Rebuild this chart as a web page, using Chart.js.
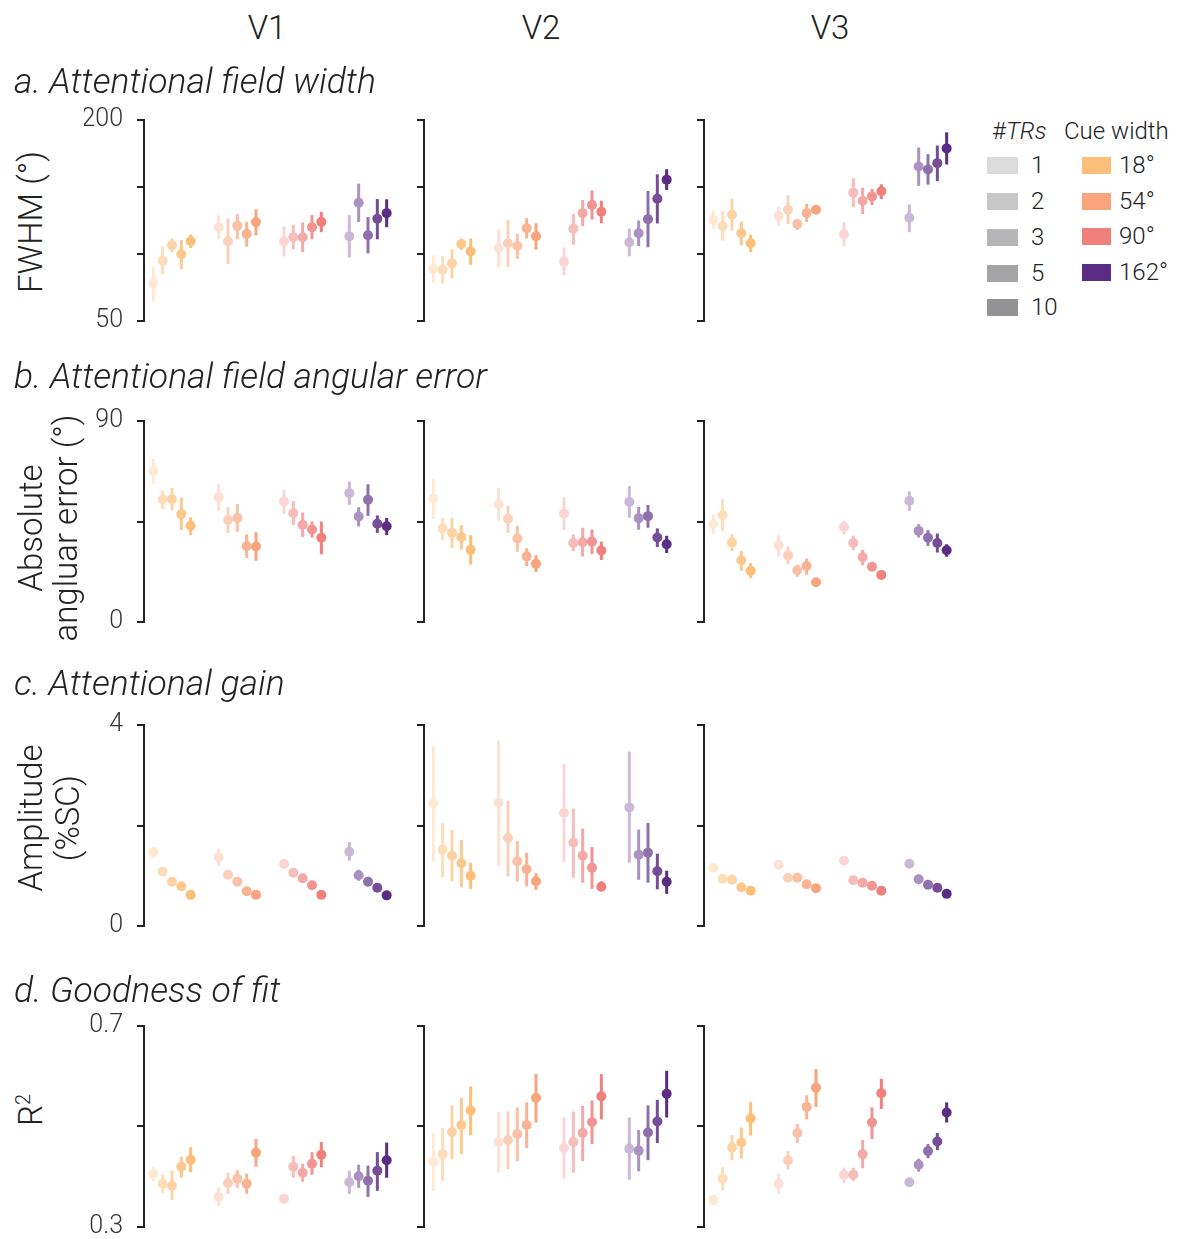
<!DOCTYPE html>
<html>
<head>
<meta charset="utf-8">
<script src="https://cdn.jsdelivr.net/npm/chart.js@4.4.0/dist/chart.umd.min.js"></script>
<style>
  body { margin: 0; background: #fff; }
  #page { position: relative; width: 1179px; height: 1239px; overflow: hidden;
          font-family: Roboto, "Helvetica Neue", sans-serif; font-weight: 300; color: #222; }
  .t { position: absolute; white-space: nowrap; }
  .col { font-size: 33px; transform: translate(-50%, -50%); }
  .row { font-size: 35.5px; font-style: italic; transform: translateY(-50%); }
  .ytitle { font-size: 33px; text-align: center; transform: translate(-50%, -50%) rotate(-90deg); }
  .lg { font-size: 24px; transform: translateY(-50%); }
  .sw { position: absolute; }
  .panel { position: absolute; }
</style>
</head>
<body>
<div id="page"></div>
<script>
// ---- categories ----
const areas = ['V1', 'V2', 'V3'];
const cueWidths = ['18°', '54°', '90°', '162°'];
const trCounts = ['1', '2', '3', '5', '10'];
const cueColors = ['#FDBE79', '#F8A47D', '#F0807C', '#5B2C83'];
const trAlpha = [0.33, 0.52, 0.68, 0.84, 1.0];
const trGray = '#939396';

// ---- row titles, y titles, tick values ----
const rowTitles = ['a. Attentional field width', 'b. Attentional field angular error',
                   'c. Attentional gain', 'd. Goodness of fit'];
const fwhmTicks = [50, 100, 150, 200];
const errTicks = [0, 45, 90];
const ampTicks = [0, 2, 4];
const r2Ticks = [0.3, 0.5, 0.7];

// ---- a. FWHM (deg): order = cue 18,54,90,162 x TRs 1,2,3,5,10 ----
const fwhmV1Mean = [78, 95, 106.5, 99.8, 109.5, 120, 109.5, 121, 115, 123.8, 109.5, 112.5, 112.5, 120, 124, 113.3, 138.3, 114, 126.3, 130.5];
const fwhmV1Lo   = [65, 85, 101.5, 88.8, 104.5, 111, 92.5, 111, 105.5, 114, 98.3, 103.5, 101.3, 111, 116.3, 97.5, 123.8, 100.5, 111, 120];
const fwhmV1Hi   = [90.5, 105.5, 111.5, 110.5, 114.5, 128.8, 126.5, 130, 124, 133.3, 120.5, 121.8, 123.5, 129, 131.5, 129, 152.5, 127.5, 141, 140.8];
const fwhmV2Mean = [89, 88.3, 93, 107.5, 101.8, 104.5, 108, 106, 119.3, 113.3, 94.3, 118.8, 130.5, 136.5, 131.5, 108.8, 115.5, 126, 141.3, 155.5];
const fwhmV2Lo   = [78.5, 78, 82, 103, 92, 90, 90.5, 96.3, 111.5, 103.3, 84, 106.8, 120.8, 125.8, 123, 98.3, 106, 105, 122.8, 147.8];
const fwhmV2Hi   = [99, 98.3, 103.5, 111.5, 111.5, 118.3, 125.3, 115, 126.8, 123, 104.8, 130, 140.3, 147.5, 139.8, 119, 125, 147, 159.5, 163.3];
const fwhmV3Mean = [125.5, 120.8, 129.3, 115.5, 108, 128.3, 133, 122.3, 130.5, 133, 114.8, 145.8, 139.8, 143, 146.8, 127, 165.3, 163, 167.8, 178.8];
const fwhmV3Lo   = [118.5, 110, 117.3, 106.5, 101.3, 120.8, 122.3, 118, 123.8, 130, 105.8, 134.8, 129.8, 136.5, 141, 116.3, 150.8, 151.8, 154.3, 166.8];
const fwhmV3Hi   = [132.5, 131.8, 141.3, 124.3, 114.5, 135.5, 143.8, 126.3, 137.5, 135.5, 123.8, 156.5, 149.5, 148.5, 152, 137, 179.5, 174.5, 181, 190.8];

// ---- b. absolute angular error (deg) ----
const errV1Mean = [67.6, 54.9, 55, 48.3, 43.1, 55.9, 45.7, 46.6, 33.9, 33.8, 54, 48.7, 43.5, 41.4, 37.7, 57.7, 47.2, 54.7, 44, 42.9];
const errV1Lo   = [61.9, 50.7, 50.1, 41.1, 38.9, 49.8, 39.9, 40.4, 28.7, 27.4, 48.4, 43.4, 38.1, 37.8, 30.3, 52.5, 42.8, 47.5, 39.9, 38.9];
const errV1Hi   = [73, 58.8, 60, 55.5, 46.9, 61.7, 51.4, 52.8, 39.3, 40.2, 59.2, 54.1, 49, 45, 45, 62.8, 51.4, 61.7, 47.7, 46.6];
const errV2Mean = [55.4, 41.9, 39.9, 38, 32.3, 52.7, 46.2, 37.4, 29.4, 26.1, 48.6, 35.4, 35.7, 36, 32, 53.7, 46.5, 47.4, 37.8, 34.8];
const errV2Lo   = [46, 36.8, 33.2, 32.4, 25.7, 45.3, 39.9, 31.4, 25, 22.4, 41.1, 31.7, 29.3, 30.5, 27.8, 46.7, 41.3, 42.2, 33.6, 30.9];
const errV2Hi   = [64, 46.5, 46.5, 43.4, 38.9, 60, 52.2, 43, 33, 29.9, 56, 39.2, 42.2, 41.4, 36, 60.9, 51.5, 52.4, 41.9, 38.6];
const errV3Mean = [43.8, 47.8, 35.6, 27.5, 23, 34.4, 29.9, 23.2, 25.1, 17.8, 42.5, 35.4, 29, 24.7, 21.1, 54.3, 40.8, 37.7, 35.4, 32.1];
const errV3Lo   = [39.2, 40.7, 31.8, 22.9, 19.6, 29.6, 25.9, 20.2, 21.2, 17.1, 39.3, 32.1, 25.4, 23.9, 20.5, 49.8, 37.8, 34.1, 31.1, 29.2];
const errV3Hi   = [48.3, 55, 39.3, 31.8, 26.3, 39, 33.8, 25.7, 28.4, 18.5, 45.4, 38.7, 32.3, 25.5, 21.7, 58.5, 43.8, 41.1, 39.6, 34.8];

// ---- c. amplitude (%SC) ----
const ampV1Mean = [1.47, 1.08, 0.88, 0.79, 0.62, 1.37, 1.02, 0.88, 0.69, 0.62, 1.24, 1.06, 0.95, 0.81, 0.62, 1.48, 1.01, 0.88, 0.76, 0.61];
const ampV1Lo   = [1.36, 1.04, 0.85, 0.76, 0.6, 1.2, 0.98, 0.85, 0.66, 0.6, 1.2, 1.02, 0.92, 0.78, 0.6, 1.3, 0.9, 0.85, 0.73, 0.59];
const ampV1Hi   = [1.57, 1.12, 0.91, 0.82, 0.64, 1.54, 1.06, 0.91, 0.72, 0.64, 1.28, 1.1, 0.98, 0.84, 0.64, 1.67, 1.12, 0.91, 0.79, 0.63];
const ampV2Mean = [2.44, 1.52, 1.4, 1.25, 1.0, 2.45, 1.75, 1.29, 1.13, 0.89, 2.25, 1.66, 1.4, 1.16, 0.78, 2.36, 1.42, 1.46, 1.09, 0.88];
const ampV2Lo   = [1.28, 0.97, 0.89, 0.77, 0.74, 1.2, 0.99, 0.88, 0.79, 0.72, 1.28, 0.96, 0.86, 0.74, 0.69, 1.26, 0.92, 0.86, 0.73, 0.64];
const ampV2Hi   = [3.58, 2.05, 1.91, 1.71, 1.26, 3.69, 2.49, 1.69, 1.46, 1.05, 3.22, 2.34, 1.94, 1.57, 0.89, 3.47, 1.92, 2.05, 1.44, 1.1];
const ampV3Mean = [1.16, 0.94, 0.92, 0.77, 0.7, 1.22, 0.96, 0.96, 0.83, 0.75, 1.3, 0.91, 0.86, 0.8, 0.7, 1.24, 0.93, 0.82, 0.76, 0.64];
const ampV3Lo   = [1.13, 0.91, 0.89, 0.74, 0.67, 1.19, 0.93, 0.93, 0.8, 0.72, 1.26, 0.88, 0.83, 0.77, 0.67, 1.2, 0.9, 0.79, 0.73, 0.61];
const ampV3Hi   = [1.19, 0.97, 0.95, 0.8, 0.73, 1.25, 0.99, 0.99, 0.86, 0.78, 1.34, 0.94, 0.89, 0.83, 0.73, 1.28, 0.96, 0.85, 0.79, 0.67];

// ---- d. goodness of fit (R^2) ----
const r2V1Mean = [0.406, 0.386, 0.382, 0.420, 0.434, 0.360, 0.387, 0.396, 0.386, 0.448, 0.356, 0.420, 0.408, 0.426, 0.444, 0.389, 0.401, 0.392, 0.412, 0.433];
const r2V1Lo   = [0.391, 0.368, 0.354, 0.398, 0.409, 0.342, 0.366, 0.378, 0.366, 0.420, 0.351, 0.398, 0.390, 0.404, 0.419, 0.366, 0.378, 0.360, 0.372, 0.398];
const r2V1Hi   = [0.420, 0.404, 0.412, 0.440, 0.459, 0.378, 0.408, 0.413, 0.406, 0.475, 0.361, 0.441, 0.426, 0.449, 0.469, 0.412, 0.424, 0.422, 0.449, 0.468];
const r2V2Mean = [0.430, 0.445, 0.489, 0.503, 0.532, 0.469, 0.473, 0.485, 0.503, 0.557, 0.457, 0.469, 0.487, 0.509, 0.560, 0.456, 0.452, 0.488, 0.510, 0.565];
const r2V2Lo   = [0.372, 0.392, 0.435, 0.445, 0.483, 0.408, 0.415, 0.431, 0.457, 0.508, 0.396, 0.408, 0.431, 0.465, 0.514, 0.394, 0.411, 0.433, 0.467, 0.518];
const r2V2Hi   = [0.487, 0.497, 0.542, 0.557, 0.580, 0.529, 0.530, 0.538, 0.548, 0.604, 0.518, 0.530, 0.541, 0.552, 0.604, 0.518, 0.493, 0.542, 0.553, 0.611];
const r2V3Mean = [0.354, 0.396, 0.458, 0.468, 0.516, 0.386, 0.433, 0.487, 0.539, 0.577, 0.404, 0.404, 0.445, 0.508, 0.566, 0.389, 0.424, 0.451, 0.470, 0.528];
const r2V3Lo   = [0.343, 0.372, 0.433, 0.436, 0.482, 0.366, 0.414, 0.467, 0.514, 0.539, 0.388, 0.392, 0.417, 0.475, 0.535, 0.383, 0.410, 0.437, 0.453, 0.508];
const r2V3Hi   = [0.364, 0.419, 0.483, 0.498, 0.549, 0.406, 0.451, 0.505, 0.562, 0.614, 0.418, 0.418, 0.473, 0.538, 0.595, 0.395, 0.436, 0.465, 0.487, 0.548];

// ---- panel grid ----
const rows = [
  { ticks: fwhmTicks, fmt: v => String(v),
    panels: [[fwhmV1Mean, fwhmV1Lo, fwhmV1Hi], [fwhmV2Mean, fwhmV2Lo, fwhmV2Hi], [fwhmV3Mean, fwhmV3Lo, fwhmV3Hi]] },
  { ticks: errTicks, fmt: v => String(v),
    panels: [[errV1Mean, errV1Lo, errV1Hi], [errV2Mean, errV2Lo, errV2Hi], [errV3Mean, errV3Lo, errV3Hi]] },
  { ticks: ampTicks, fmt: v => String(v),
    panels: [[ampV1Mean, ampV1Lo, ampV1Hi], [ampV2Mean, ampV2Lo, ampV2Hi], [ampV3Mean, ampV3Lo, ampV3Hi]] },
  { ticks: r2Ticks, fmt: v => v.toFixed(1),
    panels: [[r2V1Mean, r2V1Lo, r2V1Hi], [r2V2Mean, r2V2Lo, r2V2Hi], [r2V3Mean, r2V3Lo, r2V3Hi]] },
];

const page = document.getElementById('page');
const FONT = 'Roboto, "Helvetica Neue", sans-serif';

// colour of a cue width at a given TR count, blended onto white
function shade(hex, a) {
  const n = parseInt(hex.slice(1), 16);
  const r = (n >> 16) & 255, g = (n >> 8) & 255, b = n & 255;
  const m = c => Math.round(255 + (c - 255) * a);
  return `rgb(${m(r)},${m(g)},${m(b)})`;
}

function addText(cls, html, left, top) {
  const d = document.createElement('div');
  d.className = 't ' + cls;
  d.innerHTML = html;
  d.style.left = left + 'px';
  d.style.top = top + 'px';
  page.appendChild(d);
  return d;
}

// error bars drawn from each point's lo/hi through the chart's scales
const errorBars = {
  id: 'errorBars',
  beforeDatasetsDraw(chart) {
    const { ctx, scales: { x, y } } = chart;
    ctx.save();
    ctx.lineWidth = 3;
    ctx.lineCap = 'butt';
    chart.data.datasets.forEach(ds => {
      ds.data.forEach((p, i) => {
        const px = x.getPixelForValue(p.x);
        ctx.strokeStyle = ds.pointBackgroundColor[i];
        ctx.beginPath();
        ctx.moveTo(px, y.getPixelForValue(p.lo));
        ctx.lineTo(px, y.getPixelForValue(p.hi));
        ctx.stroke();
      });
    });
    ctx.restore();
  }
};

const axisX = [143.5, 423.5, 703.5];
const rowTop = [120, 421, 725, 1026];
const AREA_H = 201, AXIS_W = 60, AREA_W = 252, PAD = 36;

rows.forEach((row, r) => {
  row.panels.forEach(([mean, lo, hi], c) => {
    const wrap = document.createElement('div');
    wrap.className = 'panel';
    const W = AXIS_W + AREA_W + 10, H = AREA_H + 2 * PAD;
    wrap.style.left = (axisX[c] - AXIS_W) + 'px';
    wrap.style.top = (rowTop[r] - PAD) + 'px';
    wrap.style.width = W + 'px';
    wrap.style.height = H + 'px';
    const cv = document.createElement('canvas');
    cv.width = W; cv.height = H;
    wrap.appendChild(cv);
    page.appendChild(wrap);

    const datasets = cueWidths.map((cw, g) => {
      const cols = trCounts.map((_, i) => shade(cueColors[g], trAlpha[i]));
      return {
        label: cw,
        data: trCounts.map((_, i) => ({ x: g * 7 + i, y: mean[g * 5 + i], lo: lo[g * 5 + i], hi: hi[g * 5 + i] })),
        pointBackgroundColor: cols,
        pointBorderWidth: 0,
        pointRadius: 5,
        showLine: false,
        clip: false,
      };
    });
    const tv = row.ticks;
    new Chart(cv, {
      type: 'scatter',
      data: { datasets },
      plugins: [errorBars],
      options: {
        responsive: false,
        animation: false,
        devicePixelRatio: 1,
        layout: { autoPadding: false, padding: { top: PAD, bottom: PAD, left: 0, right: 10 } },
        plugins: { legend: { display: false }, tooltip: { enabled: false } },
        scales: {
          x: { type: 'linear', min: -1, max: 26, display: false },
          y: {
            type: 'linear', min: tv[0], max: tv[tv.length - 1],
            afterBuildTicks: s => { s.ticks = tv.map(v => ({ value: v })); },
            afterFit: s => { s.width = AXIS_W; },
            border: { display: true, color: '#222', width: 2 },
            grid: { display: true, drawOnChartArea: false, drawTicks: true, tickLength: 7, color: '#222', lineWidth: 2 },
            ticks: {
              padding: 14, color: '#333',
              font: { family: FONT, size: 25, weight: '300' },
              callback: v => (c === 0 && (v === tv[0] || v === tv[tv.length - 1])) ? row.fmt(v) : ''
            }
          }
        }
      }
    });
  });
});

// column headers
const colCenter = [267, 541, 830];
areas.forEach((a, i) => addText('col', a, colCenter[i], 27));

// row titles
const titleY = [81, 376, 683, 990];
rowTitles.forEach((t, i) => addText('row', t, 14, titleY[i]));

// y-axis titles
addText('ytitle', 'FWHM (°)', 30, 222);
const yb = addText('ytitle', 'Absolute<br>angluar error (°)', 47.5, 528); yb.style.lineHeight = '35px';
const yc = addText('ytitle', 'Amplitude<br>(%SC)', 48.5, 818); yc.style.lineHeight = '37px';
addText('ytitle', 'R<sup style="font-size:20px">2</sup>', 30, 1110);

// legend
addText('lg', '#<i>TRs</i>', 992, 131);
addText('lg', 'Cue width', 1064, 131);
const trY = [165, 201, 237, 273, 307];
trCounts.forEach((t, i) => {
  const s = document.createElement('div');
  s.className = 'sw';
  s.style.cssText = `left:987px;top:${trY[i] - 8}px;width:31px;height:17px;background:${shade(trGray, trAlpha[i])}`;
  page.appendChild(s);
  addText('lg', t, 1031, trY[i]);
});
const cwY = [165, 201, 236, 272];
cueWidths.forEach((cw, i) => {
  const s = document.createElement('div');
  s.className = 'sw';
  s.style.cssText = `left:1082px;top:${cwY[i] - 8}px;width:29px;height:17px;background:${cueColors[i]}`;
  page.appendChild(s);
  addText('lg', cw, 1119, cwY[i]);
});
</script>
</body>
</html>
